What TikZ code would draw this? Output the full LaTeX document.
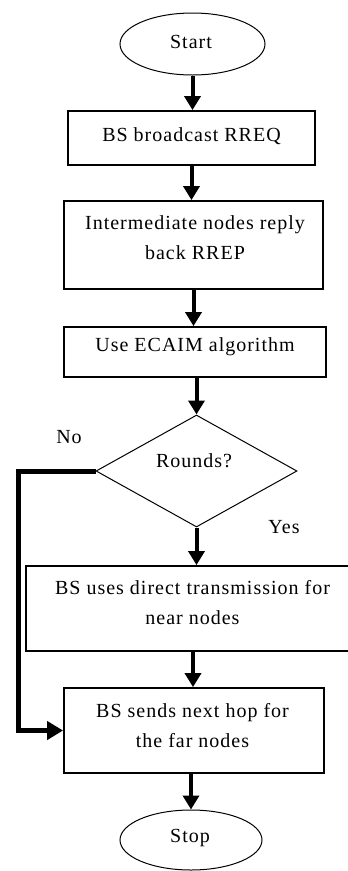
\documentclass[tikz,border=0pt]{standalone}
\usepackage{fontspec}
\setmainfont[LetterSpace=5]{Liberation Serif}
\usetikzlibrary{shapes.geometric,arrows.meta}
\begin{document}
\begin{tikzpicture}[x=1pt,y=-1pt,
  every node/.style={font=\fontsize{20}{30}\selectfont, inner sep=0pt},
  terminal/.style={ellipse, draw, line width=1pt},
  stepbox/.style={rectangle, draw, line width=1.8pt},
  decision/.style={diamond, draw, line width=1pt},
  txt/.style={align=center},
  flow/.style={line width=4pt, -{Triangle[width=16pt,length=14pt]}},
  loopflow/.style={line width=5pt, -{Triangle[width=18pt,length=16pt]}},
]
\useasboundingbox (0,0) rectangle (348,871);
\clip (0,0) rectangle (348,871);

% terminals
\node[terminal, minimum width=145pt, minimum height=62pt] (start) at (192.5,44) {};
\node[txt] (tstart) at (191,42) {Start};
\node[terminal, minimum width=142pt, minimum height=60pt] (stop) at (191,840) {};
\node[txt] (tstop) at (190,838) {Stop};

% process steps
\node[stepbox, minimum width=247pt, minimum height=54pt] (b1) at (191.5,138) {};
\node[txt] (t1) at (191.5,136) {BS broadcast RREQ};

\node[stepbox, minimum width=259pt, minimum height=88pt] (b2) at (193.5,245) {};
\node[txt] (t2) at (195,237.5) {Intermediate nodes reply\\back RREP};

\node[stepbox, minimum width=262pt, minimum height=50pt] (b3) at (195,352) {};
\node[txt] (t3) at (195,347) {Use ECAIM algorithm};

% decision
\node[decision, minimum width=201pt, minimum height=112pt] (dec) at (196.5,471) {};
\node[txt] (tdec) at (194,461) {Rounds?};
\node[txt] (lno) at (69,437) {No};
\node[txt] (lyes) at (284,527) {Yes};

\node[stepbox, minimum width=334pt, minimum height=85pt] (b4) at (193,608.5) {};
\node[txt] (t4) at (192.5,602.5) {BS uses direct transmission for\\near nodes};

\node[stepbox, minimum width=260pt, minimum height=85pt] (b5) at (194,730.5) {};
\node[txt] (t5) at (192.5,726) {BS sends next hop for\\the far nodes};

% connectors
\draw[flow] (start.south) -- (start.south |- b1.north);
\draw[flow] (b1.south) -- (b1.south |- b2.north);
\draw[flow] (b2.south) -- (b2.south |- b3.north);
\draw[flow] (dec.north |- b3.south) -- (dec.north);
\draw[flow] (dec.south) -- (dec.south |- b4.north);
\draw[flow] (b4.south) -- (b4.south |- b5.north);
\draw[flow] (stop.north |- b5.south) -- (stop.north);

\coordinate (bend) at (18,471);
\draw[loopflow] (dec.west) -- (bend) |- (b5.west);
\end{tikzpicture}
\end{document}
